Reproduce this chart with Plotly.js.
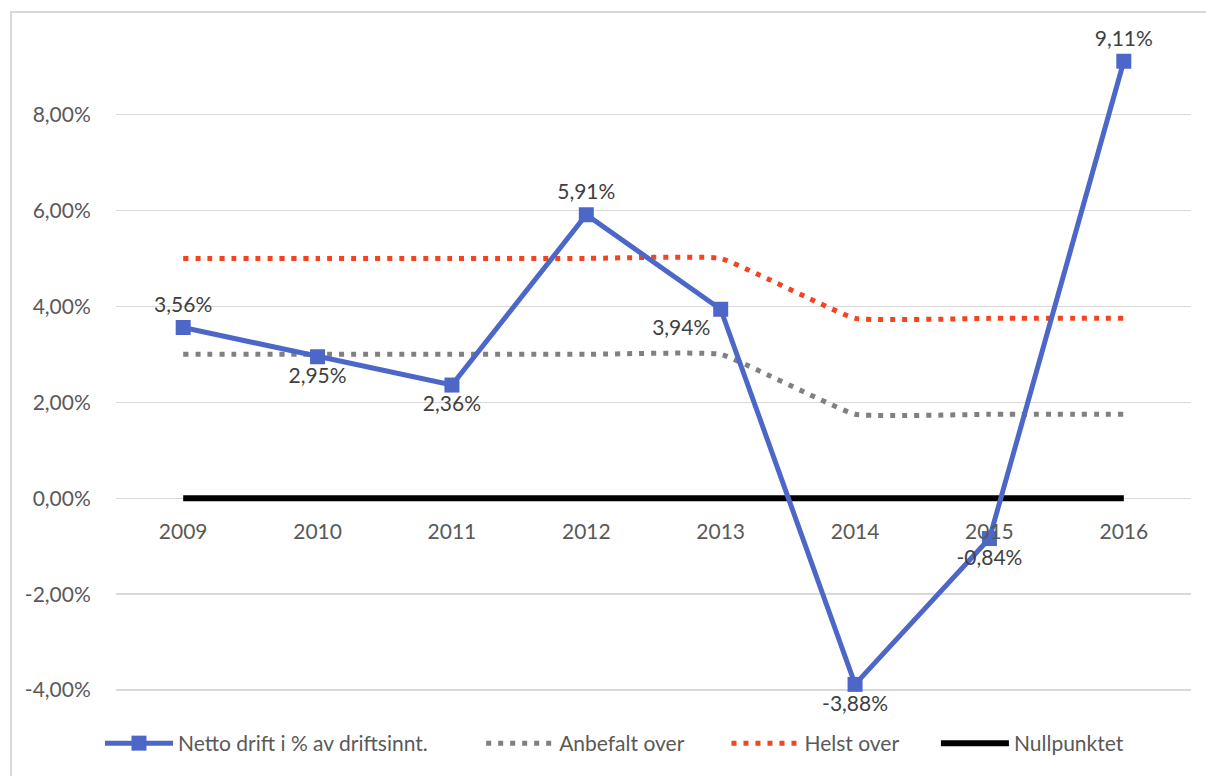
<!DOCTYPE html>
<html>
<head>
<meta charset="utf-8">
<script src="https://cdn.plot.ly/plotly-3.0.1.min.js"></script>
<style>
  html, body { margin: 0; padding: 0; background: #fff; }
  #frame { position: absolute; left: 10px; top: 11px; width: 1300px; height: 900px;
           border-left: 2px solid #d9d9d9; border-top: 2px solid #d9d9d9; }
  #chart { position: absolute; left: 0; top: 0; width: 1206px; height: 776px; }
</style>
</head>
<body>
<div id="frame"></div>
<div id="chart"></div>
<script>
const years = ['2009', '2010', '2011', '2012', '2013', '2014', '2015', '2016'];
const netto = [3.56, 2.95, 2.36, 5.91, 3.94, -3.88, -0.84, 9.11];
const nettoLabels = ['3,56%', '2,95%', '2,36%', '5,91%', '3,94%', '-3,88%', '-0,84%', '9,11%'];
const nettoLabelPos = ['top center', 'bottom center', 'bottom center', 'top center', 'bottom left', 'bottom center', 'bottom center', 'top center'];
const anbefalt = [3, 3, 3, 3, 3, 1.75, 1.75, 1.75];
const helst = [5, 5, 5, 5, 5, 3.75, 3.75, 3.75];
const nullpunkt = [0, 0, 0, 0, 0, 0, 0, 0];
const yTickVals = [-4, -2, 0, 2, 4, 6, 8];
const yTickText = ['-4,00%', '-2,00%', '0,00%', '2,00%', '4,00%', '6,00%', '8,00%'];
const seriesNames = ['Netto drift i % av driftsinnt.', 'Anbefalt over', 'Helst over', 'Nullpunktet'];

const FONT = 'Lato, "Open Sans", sans-serif';
const FS = 21;
const pad = n => '\u00a0'.repeat(n);

const nettoTrace = {
  x: years, y: netto, name: seriesNames[0] + pad(9), legendrank: 1,
  type: 'scatter', mode: 'lines+markers+text',
  line: { color: '#4d67c9', width: 5 },
  marker: { symbol: 'square', size: 15, color: '#4d67c9' },
  text: nettoLabels, textposition: nettoLabelPos,
  textfont: { family: FONT, size: FS, color: '#404040' },
  cliponaxis: false
};
const anbefaltTrace = {
  x: years, y: anbefalt, name: seriesNames[1] + pad(7), legendrank: 2,
  type: 'scatter', mode: 'lines',
  line: { color: '#808080', width: 5, dash: '5px,7px', shape: 'spline', smoothing: 0.3 }
};
const helstTrace = {
  x: years, y: helst, name: seriesNames[2] + pad(6), legendrank: 3,
  type: 'scatter', mode: 'lines',
  line: { color: '#f4431f', width: 5, dash: '5px,7px', shape: 'spline', smoothing: 0.3 }
};
const nullTrace = {
  x: years, y: nullpunkt, name: seriesNames[3], legendrank: 4,
  type: 'scatter', mode: 'lines',
  line: { color: '#000000', width: 6 }
};

const layout = {
  width: 1206, height: 776,
  margin: { l: 116, r: 15, t: 20, b: 56 },
  paper_bgcolor: 'rgba(0,0,0,0)',
  plot_bgcolor: 'rgba(0,0,0,0)',
  font: { family: FONT, size: FS, color: '#595959' },
  showlegend: true,
  legend: {
    orientation: 'h', x: (100 - 116) / 1075, xanchor: 'left', y: -0.038, yanchor: 'middle',
    traceorder: 'normal',
    font: { family: FONT, size: FS, color: '#595959' },
    itemwidth: 68
  },
  xaxis: {
    type: 'category',
    anchor: 'free', position: (720 - 500) / 700,
    showgrid: false, zeroline: false, showline: false,
    ticks: 'outside', ticklen: 15, tickcolor: 'rgba(0,0,0,0)',
    tickfont: { family: FONT, size: FS, color: '#595959' },
    range: [-0.5, 7.5]
  },
  yaxis: {
    range: [-4.56, 9.97],
    tickvals: yTickVals, ticktext: yTickText,
    showgrid: true, gridcolor: '#d9d9d9', gridwidth: 1.5,
    zeroline: false, showline: false,
    ticks: 'outside', ticklen: 20, tickcolor: 'rgba(0,0,0,0)',
    tickfont: { family: FONT, size: FS, color: '#595959' }
  }
};

Plotly.newPlot('chart', [nullTrace, anbefaltTrace, helstTrace, nettoTrace], layout,
  { displayModeBar: false, staticPlot: true });
</script>
</body>
</html>
